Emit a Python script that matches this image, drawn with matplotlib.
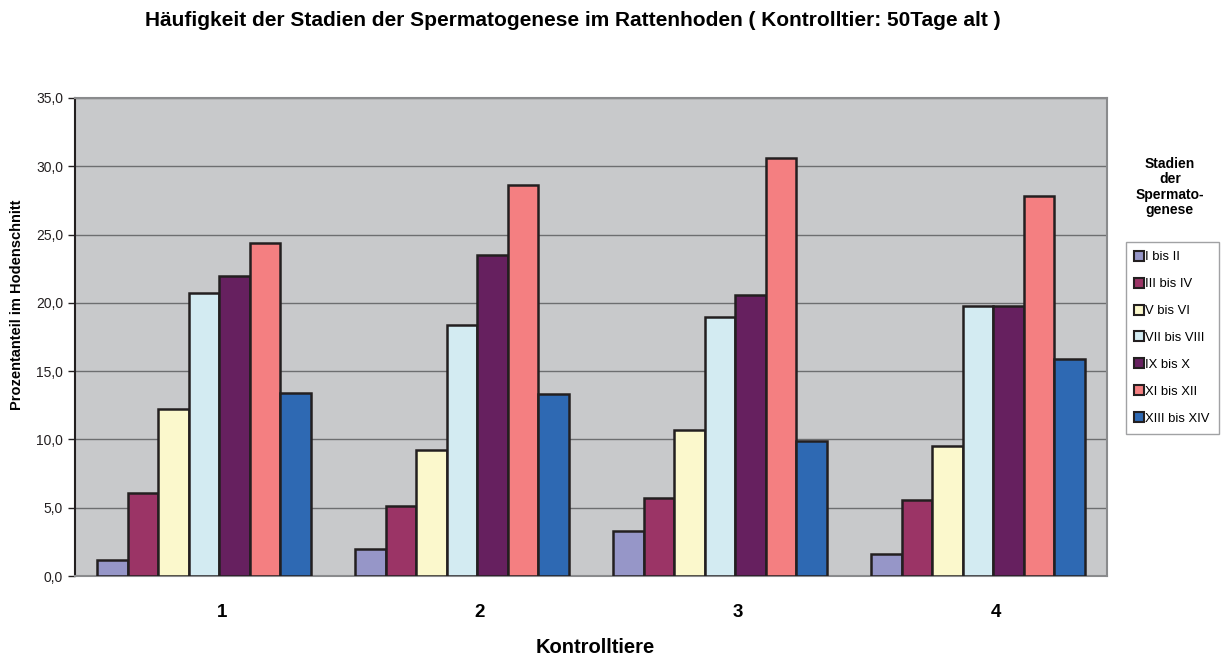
import numpy as np
import matplotlib
matplotlib.use('Agg')
import matplotlib.pyplot as plt
from matplotlib.lines import Line2D
from matplotlib.ticker import FuncFormatter
import matplotlib.transforms as mtransforms

plt.rcParams['font.family'] = ['Liberation Sans', 'DejaVu Sans']

# Kontrolltiere und Stadiengruppen
tiere = ['1', '2', '3', '4']
stadien = ['I bis II', 'III bis IV', 'V bis VI', 'VII bis VIII',
           'IX bis X', 'XI bis XII', 'XIII bis XIV']

# Prozentanteile je Stadium (Reihen) und Tier (Spalten)
anteil_I_II = [1.2, 2.0, 3.3, 1.6]
anteil_III_IV = [6.1, 5.1, 5.7, 5.6]
anteil_V_VI = [12.2, 9.2, 10.7, 9.5]
anteil_VII_VIII = [20.7, 18.4, 19.0, 19.8]
anteil_IX_X = [22.0, 23.5, 20.6, 19.8]
anteil_XI_XII = [24.4, 28.6, 30.6, 27.8]
anteil_XIII_XIV = [13.4, 13.3, 9.9, 15.9]

werte = [anteil_I_II, anteil_III_IV, anteil_V_VI, anteil_VII_VIII,
         anteil_IX_X, anteil_XI_XII, anteil_XIII_XIV]

farben = ['#9696C8', '#9B3466', '#FBF8CC', '#D3EBF2',
          '#66205F', '#F47F81', '#2E69B3']

fig = plt.figure(figsize=(12.25, 6.55), dpi=100)
ax = fig.add_axes([0.0612, 0.1206, 0.8425, 0.7298])
ax.set_facecolor('#C8C9CB')

x = np.arange(len(tiere))
breite = 0.118
for i, (serie, farbe) in enumerate(zip(werte, farben)):
    versatz = (i - 3) * breite
    ax.bar(x + versatz, serie, breite, color=farbe, edgecolor='#231F20',
           linewidth=1.8, zorder=3)

ax.set_xlim(-0.5, 3.5)
ax.set_ylim(0, 35)
ax.set_yticks(np.arange(0, 35.1, 5))
ax.yaxis.set_major_formatter(FuncFormatter(lambda v, p: f'{v:.1f}'.replace('.', ',')))
ax.yaxis.grid(True, color='#6D6E70', linewidth=1.0, zorder=1)
ax.set_axisbelow(True)

ax.set_xticks(x)
ax.set_xticklabels(tiere, fontsize=13.5, fontweight='bold')
ax.tick_params(axis='x', length=0, pad=20)
ax.tick_params(axis='y', length=5, direction='out', labelsize=10, colors='#231F20', width=1)
# Kategorienbeschriftung leicht nach rechts versetzt
verschiebung = mtransforms.ScaledTranslation(18 / 100, 0, fig.dpi_scale_trans)
for lbl in ax.get_xticklabels():
    lbl.set_transform(lbl.get_transform() + verschiebung)

for s in ['top', 'right', 'bottom']:
    ax.spines[s].set_color('#8A8B8D')
    ax.spines[s].set_linewidth(1.5)
ax.spines['left'].set_color('#231F20')
ax.spines['left'].set_linewidth(1.5)

ax.set_ylabel('Prozentanteil im Hodenschnitt', fontsize=10.5, fontweight='bold')
ax.yaxis.set_label_coords(-0.049, 0.567)
ax.set_xlabel('Kontrolltiere', fontsize=14.5, fontweight='bold')
ax.xaxis.set_label_coords(0.504, -0.13)

fig.text(0.468, 0.969, 'Häufigkeit der Stadien der Spermatogenese im Rattenhoden ( Kontrolltier: 50Tage alt )',
         ha='center', va='center', fontsize=15, fontweight='bold')

# Legende mit Titel darüber
fig.text(0.955, 0.7145, 'Stadien\nder\nSpermato-\ngenese', ha='center', va='center',
         fontsize=10, fontweight='bold', linespacing=1.15)
griffe = [Line2D([0], [0], marker='s', linestyle='none', markersize=6.5,
                 markerfacecolor=f, markeredgecolor='#231F20', markeredgewidth=1.5)
          for f in farben]
leg = fig.legend(griffe, stadien, loc='upper left', bbox_to_anchor=(0.9195, 0.6305),
                 fontsize=9.4, frameon=True, fancybox=False, handlelength=0.6,
                 handletextpad=0.15, labelspacing=1.13, borderpad=0.7,
                 borderaxespad=0)
leg.get_frame().set_edgecolor('#8A8B8D')
leg.get_frame().set_linewidth(1.0)

fig.savefig('out.png', dpi=100, facecolor='white')
